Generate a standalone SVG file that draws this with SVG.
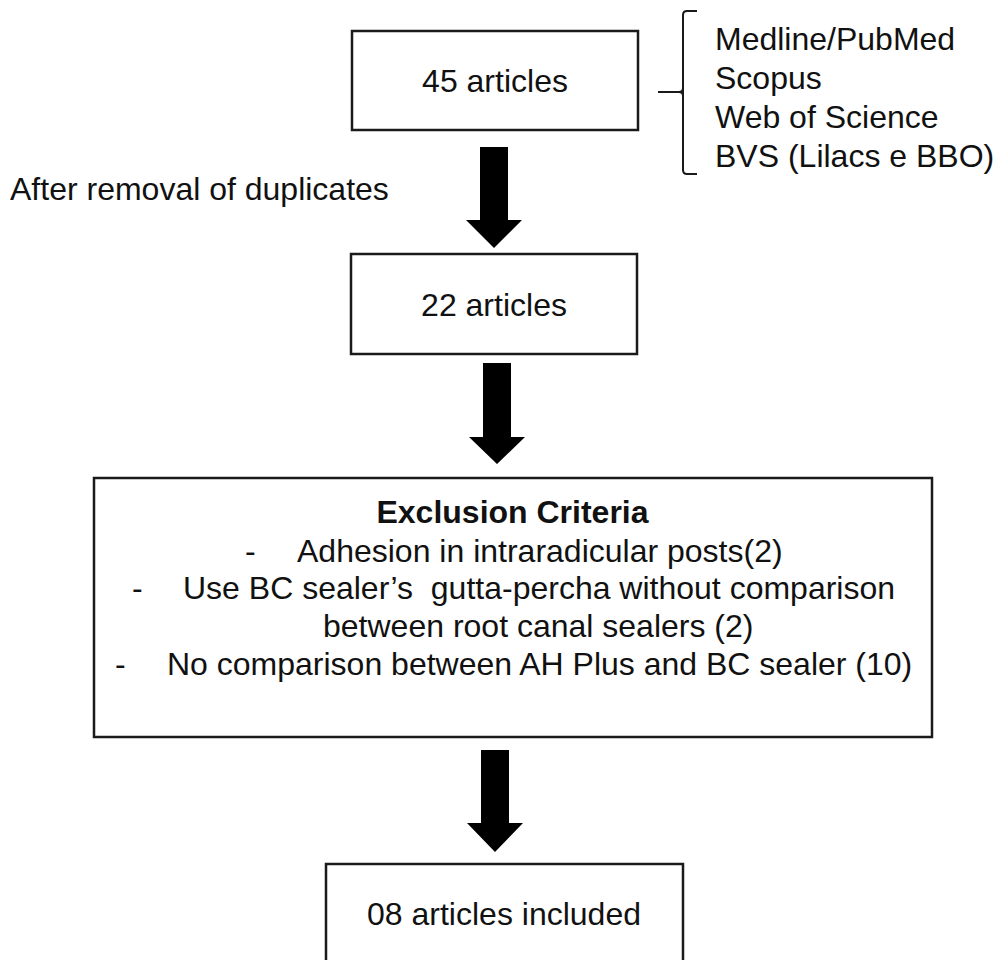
<svg xmlns="http://www.w3.org/2000/svg" width="996" height="960" viewBox="0 0 996 960">
<style>
.box{fill:#fff;stroke:#1a1a1a;stroke-width:2.5}
.t{font-family:"Liberation Sans",Arial,sans-serif;font-size:32px;fill:#111;white-space:pre}
.c{text-anchor:middle}
.b{font-weight:bold}
.arr{fill:#000}
.br{fill:none;stroke:#1a1a1a;stroke-width:2}
</style>
<rect width="996" height="960" fill="#fff"/>
<g id="n1">
<rect class="box" x="352" y="31" width="286" height="99"/>
<text class="t c" x="495" y="92">45 articles</text>
</g>
<g id="sources">
<path class="br" d="M697,11 H687 Q683,11 683,15 V170 Q683,174 687,174 H697 M658,92 H679 Q683,92 683,88 M683,96 Q683,92 679,92"/>
<text class="t" x="715" y="50">Medline/PubMed</text>
<text class="t" x="715" y="89">Scopus</text>
<text class="t" x="715" y="128">Web of Science</text>
<text class="t" x="715" y="167">BVS (Lilacs e BBO)</text>
</g>
<g id="label1">
<text class="t" x="10" y="200">After removal of duplicates</text>
</g>
<g id="n2">
<rect class="box" x="351" y="254" width="286" height="100"/>
<text class="t c" x="494" y="316">22 articles</text>
</g>
<g id="n3">
<rect class="box" x="94" y="478" width="838" height="259"/>
<text class="t c b" x="512.5" y="523">Exclusion Criteria</text>
<text class="t" x="245" y="562">-</text>
<text class="t" x="297" y="562">Adhesion in intraradicular posts(2)</text>
<text class="t" x="132" y="599">-</text>
<text class="t" x="183" y="599" xml:space="preserve">Use BC sealer’s  gutta-percha without comparison</text>
<text class="t" x="323" y="637">between root canal sealers (2)</text>
<text class="t" x="115" y="675">-</text>
<text class="t" x="167" y="675">No comparison between AH Plus and BC sealer (10)</text>
</g>
<g id="n4">
<rect class="box" x="326" y="864" width="357" height="110"/>
<text class="t c" x="504" y="925">08 articles included</text>
</g>
<g id="connectors">
<polygon class="arr" points="480,147 508,147 508,220 522,220 494,248 466,220 480,220"/>
<polygon class="arr" points="483,363 511,363 511,437 525,437 497,464 469,437 483,437"/>
<polygon class="arr" points="481,750 509,750 509,823 523,823 495,852 467,823 481,823"/>
</g>
</svg>
